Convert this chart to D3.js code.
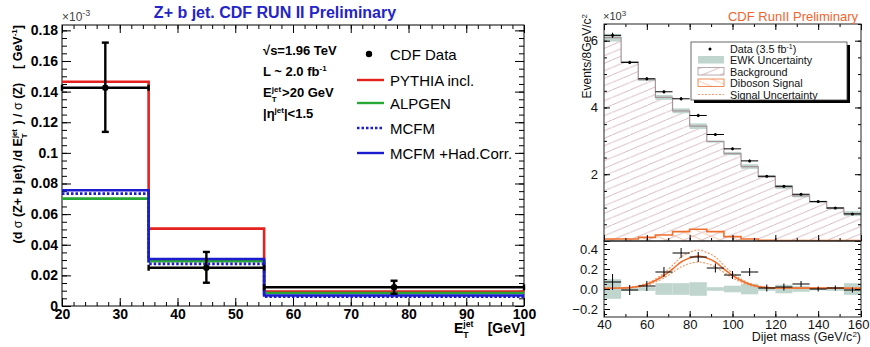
<!DOCTYPE html>
<html>
<head>
<meta charset="utf-8">
<script src="https://cdn.jsdelivr.net/npm/d3@7"></script>
<style>
  body { margin: 0; background: #fff; }
  svg { display: block; font-family: "Liberation Sans", Arial, sans-serif; }
  .lt text { font-size: 14px; font-weight: bold; fill: #000; }
  .rt text { font-size: 13px; fill: #111; }
  .tick line { stroke: #000; }
</style>
</head>
<body>
<script>
// ---- left panel: Z + b jet, dsigma/dEt / sigma(Z) (x10^-3) ----
var etEdges   = [20, 35, 55, 100];
var etCenters = [27.5, 45, 77.5];
var cdfData   = [0.1425, 0.0250, 0.0122];
var cdfErrUp  = [0.0295, 0.0103, 0.0043];
var cdfErrDn  = [0.0288, 0.0098, 0.0042];
var pythia    = [0.1464, 0.0505, 0.0095];
var alpgen    = [0.0701, 0.0292, 0.0085];
var mcfm      = [0.0734, 0.0275, 0.0061];
var mcfmHad   = [0.0756, 0.0307, 0.0069];
var leftYTicks = [0, 0.02, 0.04, 0.06, 0.08, 0.1, 0.12, 0.14, 0.16, 0.18];
var leftXTicks = [20, 30, 40, 50, 60, 70, 80, 90, 100];

// ---- right panel: dijet mass (x10^3 events / 8 GeV) ----
var massEdges = [40, 48, 56, 64, 72, 80, 88, 96, 104, 112, 120, 128, 136, 144, 152, 160];
var massCenters = [44, 52, 60, 68, 76, 84, 92, 100, 108, 116, 124, 132, 140, 148, 156];
var dijetData = [6.16, 5.35, 4.86, 4.47, 4.26, 3.76, 3.19, 2.76, 2.40, 1.94, 1.64, 1.40, 1.18, 0.99, 0.81];
var background = [6.09, 5.36, 4.83, 4.30, 3.90, 3.44, 2.98, 2.62, 2.23, 1.93, 1.62, 1.35, 1.18, 0.98, 0.82];
var ewkErr = [0.09, 0.01, 0.01, 0.05, 0.05, 0.06, 0.01, 0.025, 0.045, 0.01, 0.035, 0.02, 0.005, 0.01, 0.05];
var diboson = [0.06, 0.06, 0.11, 0.18, 0.28, 0.35, 0.28, 0.13, 0.06, 0.02, 0.01, 0.01, 0.01, 0.01, 0.01];
var residual = [0.07, -0.01, 0.03, 0.17, 0.36, 0.32, 0.21, 0.14, 0.17, 0.01, 0.02, 0.05, 0.00, 0.01, -0.01];
var residualErr = [0.08, 0.05, 0.05, 0.05, 0.05, 0.05, 0.045, 0.04, 0.04, 0.035, 0.035, 0.03, 0.025, 0.025, 0.025];
var sigX   = [40, 48, 52, 56, 60, 64, 68, 72, 76, 80, 84, 88, 92, 96, 100, 104, 108, 112, 116, 120, 160];
var sigFit = [0.008, 0.01, 0.014, 0.025, 0.047, 0.085, 0.135, 0.2, 0.27, 0.31, 0.33, 0.31, 0.27, 0.2, 0.135, 0.085, 0.047, 0.025, 0.014, 0.01, 0.008];
var sigUp  = [0.008, 0.012, 0.018, 0.032, 0.058, 0.1, 0.16, 0.235, 0.32, 0.365, 0.39, 0.365, 0.32, 0.235, 0.16, 0.1, 0.058, 0.032, 0.018, 0.012, 0.008];
var sigDn  = [0.008, 0.009, 0.011, 0.019, 0.037, 0.07, 0.11, 0.165, 0.22, 0.255, 0.27, 0.255, 0.22, 0.165, 0.11, 0.07, 0.037, 0.019, 0.011, 0.009, 0.008];
var upperYTicks = [0, 2, 4, 6];
var lowerYTicks = [-0.2, 0, 0.2, 0.4];
var massTicks = [40, 60, 80, 100, 120, 140, 160];

var svg = d3.select("body").append("svg")
    .attr("width", 870)
    .attr("height", 347);

var defs = svg.append("defs");

function hatch(id, color, up) {
  var p = defs.append("pattern")
      .attr("id", id)
      .attr("patternUnits", "userSpaceOnUse")
      .attr("width", 18).attr("height", 7.5);
  var d = up ? "M0,7.5L18,0M-18,7.5L0,0M18,7.5L36,0" : "M0,0L18,7.5M-18,0L0,7.5M18,0L36,7.5";
  p.append("path").attr("d", d).attr("stroke", color).attr("stroke-width", 0.8).attr("fill", "none");
}
hatch("hBkg", "#c9a9b0", true);
hatch("hSig", "#f5b48e", false);

function ticks(g, axisFn, scale, pos, values, size, fmt, pad) {
  var ax = axisFn(scale).tickValues(values).tickSize(-size).tickSizeOuter(0);
  if (fmt) ax.tickFormat(fmt).tickPadding(pad); else ax.tickFormat("");
  var a = g.append("g").attr("transform", pos).call(ax);
  a.attr("font-family", null).attr("font-size", null);
  a.select(".domain").remove();
  return a;
}

function range(a, b, s) {
  var out = [];
  for (var v = a; v <= b + 1e-9; v += s) out.push(Math.round(v * 1e4) / 1e4);
  return out;
}

// E_T^jet with stacked super/subscript, then the rest of the text
function etJet(t, sz, after) {
  var s = sz * 0.62;
  t.append("tspan").text("E");
  t.append("tspan").attr("dy", -sz * 0.42).style("font-size", s + "px").text("jet");
  t.append("tspan").attr("dx", -s * 1.17).attr("dy", sz * 0.78).style("font-size", s + "px").text("T");
  t.append("tspan").attr("dx", s * 0.56 + 1).attr("dy", -sz * 0.36).text(after);
}

// ======================= LEFT =======================
var L = svg.append("g").attr("class", "lt");
var lx = d3.scaleLinear().domain([20, 100]).range([62, 524]);
var ly = d3.scaleLinear().domain([0, 0.1835]).range([306, 25]);

// ticks on all four sides
ticks(L, d3.axisBottom, lx, "translate(0,306)", range(20, 100, 2), 4, null);
ticks(L, d3.axisBottom, lx, "translate(0,306)", leftXTicks, 8, d3.format("d"), 3);
ticks(L, d3.axisTop, lx, "translate(0,25)", range(20, 100, 2), 4, null);
ticks(L, d3.axisTop, lx, "translate(0,25)", leftXTicks, 8, null);
ticks(L, d3.axisLeft, ly, "translate(62,0)", range(0, 0.18, 0.005), 5, null);
ticks(L, d3.axisLeft, ly, "translate(62,0)", leftYTicks, 9, function(d) { return d === 0 ? "0" : d3.format("~g")(d); }, 4);
ticks(L, d3.axisRight, ly, "translate(524,0)", range(0, 0.18, 0.005), 5, null);
ticks(L, d3.axisRight, ly, "translate(524,0)", leftYTicks, 9, null);

L.append("rect")
    .attr("x", 62).attr("y", 25).attr("width", 462).attr("height", 281)
    .attr("fill", "none").attr("stroke", "#000").attr("stroke-width", 1);

var step = d3.line()
    .x(function(d) { return lx(d[0]); })
    .y(function(d) { return ly(d[1]); })
    .curve(d3.curveStepAfter);

function histPts(vals) {
  var pts = vals.map(function(v, i) { return [etEdges[i], v]; });
  pts.push([etEdges[3], vals[2]]);
  return pts;
}

var models = [
  {vals: pythia, color: "#e3221f", dash: null},
  {vals: alpgen, color: "#27a834", dash: null},
  {vals: mcfmHad, color: "#1c1ccf", dash: null},
  {vals: mcfm, color: "#1c1ccf", dash: "2.5,2"}
];
models.forEach(function(m) {
  L.append("path")
      .datum(histPts(m.vals))
      .attr("d", step)
      .attr("fill", "none")
      .attr("stroke", m.color)
      .attr("stroke-width", 2.6)
      .attr("stroke-dasharray", m.dash);
});

// data: horizontal bin bars with end caps, vertical error bars with caps
var dg = L.append("g").attr("stroke", "#000").attr("stroke-width", 2.4);
cdfData.forEach(function(v, i) {
  var x0 = lx(etEdges[i]), x1 = lx(etEdges[i + 1]), xc = lx(etCenters[i]), yc = ly(v);
  dg.append("line").attr("x1", x0).attr("x2", x1).attr("y1", yc).attr("y2", yc);
  dg.append("line").attr("x1", x0).attr("x2", x0).attr("y1", yc - 3).attr("y2", yc + 3);
  dg.append("line").attr("x1", x1).attr("x2", x1).attr("y1", yc - 3).attr("y2", yc + 3);
  dg.append("line").attr("x1", xc).attr("x2", xc).attr("y1", ly(v + cdfErrUp[i])).attr("y2", ly(v - cdfErrDn[i]));
  dg.append("line").attr("x1", xc - 3.5).attr("x2", xc + 3.5).attr("y1", ly(v + cdfErrUp[i])).attr("y2", ly(v + cdfErrUp[i]));
  dg.append("line").attr("x1", xc - 3.5).attr("x2", xc + 3.5).attr("y1", ly(v - cdfErrDn[i])).attr("y2", ly(v - cdfErrDn[i]));
  L.append("circle").attr("cx", xc).attr("cy", yc).attr("r", 3.2).attr("fill", "#000");
});

// title and annotation
L.append("text").attr("x", 275).attr("y", 18).attr("text-anchor", "middle")
    .style("font-size", "16px").style("fill", "#2424c8").text("Z+ b jet. CDF RUN II Preliminary");
var e3 = L.append("text").attr("x", 62).attr("y", 21).style("font-size", "12px").style("font-weight", "normal").style("fill", "#444");
e3.append("tspan").text("\u00d710");
e3.append("tspan").attr("dy", -5).style("font-size", "9px").text("-3");

var t1 = L.append("text").attr("x", 263).attr("y", 55).style("font-size", "13px");
t1.append("tspan").text("\u221As=1.96 TeV");
var t2 = L.append("text").attr("x", 263).attr("y", 76).style("font-size", "13px");
t2.append("tspan").text("L ~ 2.0 fb");
t2.append("tspan").attr("dy", -5).style("font-size", "8px").text("-1");
var t3 = L.append("text").attr("x", 263).attr("y", 97).style("font-size", "13px");
etJet(t3, 13, ">20 GeV");
var t4 = L.append("text").attr("x", 263).attr("y", 118).style("font-size", "13px");
t4.append("tspan").text("|\u03b7");
t4.append("tspan").attr("dy", -5).style("font-size", "8px").text("jet");
t4.append("tspan").attr("dy", 5).text("|<1.5");

// legend
var legItems = [
  {label: "CDF Data", y: 54},
  {label: "PYTHIA incl.", y: 80, color: "#e3221f"},
  {label: "ALPGEN", y: 103, color: "#27a834"},
  {label: "MCFM", y: 128, color: "#1c1ccf", dash: "2.5,2"},
  {label: "MCFM +Had.Corr.", y: 153, color: "#1c1ccf"}
];
legItems.forEach(function(d) {
  if (d.color) {
    L.append("line").attr("x1", 357).attr("x2", 384).attr("y1", d.y).attr("y2", d.y)
        .attr("stroke", d.color).attr("stroke-width", 2.4).attr("stroke-dasharray", d.dash || null);
  } else {
    L.append("circle").attr("cx", 369).attr("cy", d.y).attr("r", 3.2).attr("fill", "#000");
  }
  L.append("text").attr("x", 390).attr("y", d.y + 5.5)
      .style("font-size", "15px").style("font-weight", "normal").text(d.label);
});

// axis titles
var xt = L.append("text").attr("x", 454).attr("y", 333).style("font-size", "14px");
etJet(xt, 14, "");
L.append("text").attr("x", 525).attr("y", 333).attr("text-anchor", "end").style("font-size", "14px").text("[GeV]");

var yt = L.append("text")
    .attr("transform", "translate(22,25) rotate(-90)")
    .attr("text-anchor", "end")
    .style("font-size", "12.5px")
    .style("white-space", "pre");
yt.append("tspan").text("(d ");
yt.append("tspan").style("font-weight", "normal").text("\u03c3");
yt.append("tspan").text(" (Z+ b jet) /d ");
etJet(yt, 12.5, " ) / ");
yt.append("tspan").style("font-weight", "normal").text("\u03c3");
yt.append("tspan").text(" (Z)    [ GeV");
yt.append("tspan").attr("dy", -5).style("font-size", "8px").text("-1");
yt.append("tspan").attr("dy", 5).text("]");

// ======================= RIGHT =======================
var R = svg.append("g").attr("class", "rt");
var rx = d3.scaleLinear().domain([40, 160]).range([604, 861]);
var ry = d3.scaleLinear().domain([0, 6.5]).range([241, 24]);
var ry2 = d3.scaleLinear().domain([-0.28, 0.48]).range([317, 241]);

defs.append("clipPath").attr("id", "clipU").append("rect")
    .attr("x", 604).attr("y", 24).attr("width", 257).attr("height", 217);
defs.append("clipPath").attr("id", "clipD").append("rect")
    .attr("x", 604).attr("y", 241).attr("width", 257).attr("height", 76);

function massPts(vals) {
  var pts = vals.map(function(v, i) { return [massEdges[i], v]; });
  pts.push([massEdges[15], vals[14]]);
  return pts;
}
var rArea = d3.area()
    .x(function(d) { return rx(d[0]); })
    .y0(ry(0))
    .y1(function(d) { return ry(d[1]); })
    .curve(d3.curveStepAfter);
var rLine = d3.line()
    .x(function(d) { return rx(d[0]); })
    .y(function(d) { return ry(d[1]); })
    .curve(d3.curveStepAfter);

var up = R.append("g").attr("clip-path", "url(#clipU)");
up.append("path").datum(massPts(background)).attr("d", rArea).attr("fill", "url(#hBkg)");
up.append("path").datum(massPts(diboson)).attr("d", rArea).attr("fill", "url(#hSig)");
up.selectAll("rect.ewk").data(background).enter().append("rect")
    .attr("class", "ewk")
    .attr("x", function(d, i) { return rx(massEdges[i]); })
    .attr("width", function(d, i) { return rx(massEdges[i + 1]) - rx(massEdges[i]); })
    .attr("y", function(d, i) { return ry(d + ewkErr[i]) - 0.8; })
    .attr("height", function(d, i) { return ry(d - ewkErr[i]) - ry(d + ewkErr[i]) + 1.6; })
    .attr("fill", "#bfd5ce");
up.append("path").datum(massPts(background)).attr("d", rLine)
    .attr("fill", "none").attr("stroke", "#a8949a").attr("stroke-width", 1.2);
up.append("path").datum(massPts(diboson)).attr("d", rLine)
    .attr("fill", "none").attr("stroke", "#ef6f2e").attr("stroke-width", 1.6);

var ud = up.append("g").attr("stroke", "#000").attr("stroke-width", 1);
dijetData.forEach(function(v, i) {
  var xc = rx(massCenters[i]), yc = ry(v);
  ud.append("line").attr("x1", rx(massEdges[i])).attr("x2", rx(massEdges[i + 1])).attr("y1", yc).attr("y2", yc);
  ud.append("line").attr("x1", xc).attr("x2", xc).attr("y1", ry(v + residualErr[i])).attr("y2", ry(v - residualErr[i]));
  up.append("circle").attr("cx", xc).attr("cy", yc).attr("r", 1.5).attr("fill", "#000");
});

// lower panel: data - background
var dn = R.append("g").attr("clip-path", "url(#clipD)");
dn.selectAll("rect.ewk").data(ewkErr).enter().append("rect")
    .attr("x", function(d, i) { return rx(massEdges[i]); })
    .attr("width", function(d, i) { return rx(massEdges[i + 1]) - rx(massEdges[i]); })
    .attr("y", function(d) { return ry2(d) - 0.8; })
    .attr("height", function(d) { return ry2(-d) - ry2(d) + 1.6; })
    .attr("fill", "#bfd5ce");

function curve(vals) {
  return d3.line()
      .x(function(d, i) { return rx(sigX[i]); })
      .y(function(d) { return ry2(d); })
      .curve(d3.curveMonotoneX)(vals);
}
dn.append("path").attr("d", curve(sigUp)).attr("fill", "none").attr("stroke", "#f39a6a").attr("stroke-width", 1.2).attr("stroke-dasharray", "2,1.5");
dn.append("path").attr("d", curve(sigDn)).attr("fill", "none").attr("stroke", "#f39a6a").attr("stroke-width", 1.2).attr("stroke-dasharray", "2,1.5");
dn.append("path").attr("d", curve(sigFit)).attr("fill", "none").attr("stroke", "#ef6f2e").attr("stroke-width", 1.6);

var rd = dn.append("g").attr("stroke", "#000").attr("stroke-width", 1);
residual.forEach(function(v, i) {
  var xc = rx(massCenters[i]), yc = ry2(v);
  rd.append("line").attr("x1", rx(massEdges[i])).attr("x2", rx(massEdges[i + 1])).attr("y1", yc).attr("y2", yc);
  rd.append("line").attr("x1", xc).attr("x2", xc).attr("y1", ry2(v + residualErr[i])).attr("y2", ry2(v - residualErr[i]));
});

// right ticks
var mMinor = range(40, 160, 10);
ticks(R, d3.axisBottom, rx, "translate(0,317)", mMinor, 3, null);
var mLab = ticks(R, d3.axisBottom, rx, "translate(0,317)", massTicks, 6, d3.format("d"), 3);
mLab.selectAll(".tick text").filter(function(d) { return d === 160; }).attr("text-anchor", "end").attr("dx", 8);
ticks(R, d3.axisBottom, rx, "translate(0,241)", mMinor, 3, null);
ticks(R, d3.axisBottom, rx, "translate(0,241)", massTicks, 6, null);
ticks(R, d3.axisTop, rx, "translate(0,24)", mMinor, 3, null);
ticks(R, d3.axisTop, rx, "translate(0,24)", massTicks, 6, null);
ticks(R, d3.axisLeft, ry, "translate(604,0)", range(0, 6.5, 0.5), 3, null);
ticks(R, d3.axisLeft, ry, "translate(604,0)", upperYTicks, 6, function(d) { return d === 0 ? "" : d; }, 6);
ticks(R, d3.axisRight, ry, "translate(861,0)", range(0, 6.5, 0.5), 3, null);
ticks(R, d3.axisRight, ry, "translate(861,0)", upperYTicks, 6, null);
ticks(R, d3.axisLeft, ry2, "translate(604,0)", range(-0.25, 0.45, 0.05), 3, null);
ticks(R, d3.axisLeft, ry2, "translate(604,0)", lowerYTicks, 6, d3.format(".1f"), 6);
ticks(R, d3.axisRight, ry2, "translate(861,0)", range(-0.25, 0.45, 0.05), 3, null);
ticks(R, d3.axisRight, ry2, "translate(861,0)", lowerYTicks, 6, null);

R.append("rect").attr("x", 604).attr("y", 24).attr("width", 257).attr("height", 217)
    .attr("fill", "none").attr("stroke", "#222").attr("stroke-width", 1);
R.append("rect").attr("x", 604).attr("y", 241).attr("width", 257).attr("height", 76)
    .attr("fill", "none").attr("stroke", "#222").attr("stroke-width", 1);

// legend box with shadow
R.append("rect").attr("x", 694).attr("y", 45).attr("width", 156).attr("height", 58).attr("fill", "#000");
R.append("rect").attr("x", 691).attr("y", 42).attr("width", 156).attr("height", 58)
    .attr("fill", "#fff").attr("stroke", "#444").attr("stroke-width", 0.8);
R.append("circle").attr("cx", 710).attr("cy", 49).attr("r", 1.5).attr("fill", "#000");
R.append("rect").attr("x", 698).attr("y", 56).attr("width", 26).attr("height", 7.5).attr("fill", "#bfd5ce");
R.append("rect").attr("x", 698).attr("y", 67.5).attr("width", 26).attr("height", 7.5)
    .attr("fill", "url(#hBkg)").attr("stroke", "#a8949a").attr("stroke-width", 0.8);
R.append("rect").attr("x", 698).attr("y", 79).attr("width", 26).attr("height", 7.5)
    .attr("fill", "url(#hSig)").attr("stroke", "#ef6f2e").attr("stroke-width", 0.8);
R.append("line").attr("x1", 698).attr("x2", 724).attr("y1", 94.5).attr("y2", 94.5)
    .attr("stroke", "#f39a6a").attr("stroke-width", 1.2).attr("stroke-dasharray", "2,1.5");
var rLeg = [["Data (3.5 fb", 53], ["EWK Uncertainty", 64], ["Background", 75.5], ["Diboson Signal", 87], ["Signal Uncertainty", 98.5]];
rLeg.forEach(function(d, i) {
  var t = R.append("text").attr("x", 730).attr("y", d[1]).style("font-size", "10.8px");
  t.append("tspan").text(d[0]);
  if (i === 0) {
    t.append("tspan").attr("dy", -4).style("font-size", "7px").text("-1");
    t.append("tspan").attr("dy", 4).text(")");
  }
});

// right titles
R.append("text").attr("x", 858).attr("y", 21).attr("text-anchor", "end")
    .style("font-size", "13px").style("fill", "#f26430").text("CDF RunII Preliminary");
var e3r = R.append("text").attr("x", 603).attr("y", 20).style("font-size", "11px").style("fill", "#333");
e3r.append("tspan").text("\u00d710");
e3r.append("tspan").attr("dy", -4).style("font-size", "8px").text("3");
var eyl = R.append("text").attr("transform", "translate(591,14) rotate(-90)").attr("text-anchor", "end")
    .style("font-size", "12px");
eyl.append("tspan").text("Events/8GeV/c");
eyl.append("tspan").attr("dy", -4).style("font-size", "8px").text("2");
var mxl = R.append("text").attr("x", 861).attr("y", 341).attr("text-anchor", "end").style("font-size", "12.5px");
mxl.append("tspan").text("Dijet mass (GeV/c");
mxl.append("tspan").attr("dy", -4).style("font-size", "8px").text("2");
mxl.append("tspan").attr("dy", 4).text(")");
</script>
</body>
</html>
